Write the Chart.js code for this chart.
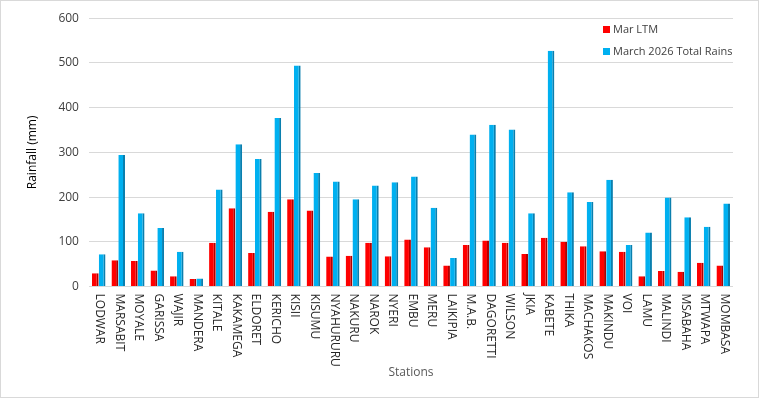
<!DOCTYPE html>
<html>
<head>
<meta charset="utf-8">
<script src="https://cdn.jsdelivr.net/npm/chart.js@4.4.1/dist/chart.umd.min.js"></script>
<style>
  body { margin: 0; background: #fff; }
  #wrap { position: relative; width: 757px; height: 396px; border: 1px solid #d9d9d9; background: #fff; }
  #legenda { position: absolute; left: 602px; top: 18px; font-family: "Open Sans", "Noto Sans", sans-serif; font-size: 11px; color: #404040; }
  #legenda div { height: 22px; line-height: 20px; white-space: nowrap; }
  #legenda span.cx { display: inline-block; width: 7px; height: 7px; margin-right: 3px; vertical-align: 0px; }
</style>
</head>
<body>
<div id="wrap">
  <canvas id="grafico" width="757" height="396"></canvas>
  <div id="legenda"></div>
</div>
<script>
// Dados do gráfico
const estacoes = ['LODWAR', 'MARSABIT', 'MOYALE', 'GARISSA', 'WAJIR', 'MANDERA', 'KITALE', 'KAKAMEGA',
  'ELDORET', 'KERICHO', 'KISII', 'KISUMU', 'NYAHURURU', 'NAKURU', 'NAROK', 'NYERI', 'EMBU', 'MERU',
  'LAIKIPIA', 'M.A.B.', 'DAGORETTI', 'WILSON', 'JKIA', 'KABETE', 'THIKA', 'MACHAKOS', 'MAKINDU',
  'VOI', 'LAMU', 'MALINDI', 'MSABAHA', 'MTWAPA', 'MOMBASA'];
const marLTM = [30, 59, 57, 36, 23, 17, 98, 175, 75, 167, 195, 170, 67, 69, 98, 68, 105, 88,
  47, 93, 103, 98, 73, 109, 100, 90, 79, 78, 23, 35, 33, 53, 47];
const march2026 = [72, 294, 164, 131, 78, 18, 217, 318, 285, 377, 494, 254, 235, 195, 226, 233, 246, 176,
  64, 340, 362, 351, 164, 527, 211, 189, 239, 93, 121, 199, 155, 134, 186];
const yTicks = [0, 100, 200, 300, 400, 500, 600];

const fonte = '"Open Sans", "Noto Sans", sans-serif';

// rótulos do eixo x escritos de cima para baixo (como no Excel)
const rotulosX = {
  id: 'rotulosX',
  afterDraw(chart) {
    const ctx = chart.ctx;
    const x = chart.scales.x;
    ctx.save();
    ctx.font = '12px ' + fonte;
    ctx.fillStyle = '#262626';
    ctx.textBaseline = 'middle';
    ctx.textAlign = 'left';
    estacoes.forEach((nome, i) => {
      const px = x.getPixelForValue(i);
      ctx.save();
      ctx.translate(px + 1, x.top + 7);
      ctx.rotate(Math.PI / 2);
      ctx.fillText(nome, 0, 0);
      ctx.restore();
    });
    ctx.restore();
  }
};

const series = [
  { label: 'Mar LTM', data: marLTM, cor: '#ff0000', lado: '#b00000' },
  { label: 'March 2026 Total Rains', data: march2026, cor: '#00b0f0', lado: '#0a7fae' }
];

new Chart(document.getElementById('grafico'), {
  type: 'bar',
  data: {
    labels: estacoes,
    datasets: series.map(s => ({
      label: s.label,
      data: s.data,
      backgroundColor: s.cor,
      borderColor: s.lado,
      borderWidth: { top: 0, left: 0, right: 2, bottom: 0 },
      borderSkipped: false,
      categoryPercentage: 0.7,
      barPercentage: 0.98
    }))
  },
  options: {
    responsive: false,
    animation: false,
    layout: { padding: { left: 20, right: 25, top: 15, bottom: 17 } },
    plugins: { legend: { display: false }, tooltip: { enabled: false } },
    scales: {
      x: {
        grid: { display: false },
        border: { display: false },
        ticks: { autoSkip: false, minRotation: 90, maxRotation: 90, color: 'transparent', font: { size: 10, family: fonte }, padding: 4 },
        title: { display: true, text: 'Stations', color: '#595959', font: { size: 12, family: fonte }, padding: { top: 2, bottom: 0 } }
      },
      y: {
        min: 0, max: 600,
        afterBuildTicks: axis => { axis.ticks = yTicks.map(v => ({ value: v })); },
        grid: { color: '#d9d9d9', drawTicks: false },
        border: { display: false },
        ticks: { color: '#404040', font: { size: 12, family: fonte }, padding: 10 },
        title: { display: true, text: 'Rainfall (mm)', color: '#000', font: { size: 12, family: fonte }, padding: { bottom: 9 } }
      }
    }
  },
  plugins: [rotulosX]
});

// legenda
const leg = document.getElementById('legenda');
series.forEach(s => {
  leg.innerHTML += `<div><span class="cx" style="background:${s.cor}"></span>${s.label}</div>`;
});
</script>
</body>
</html>
